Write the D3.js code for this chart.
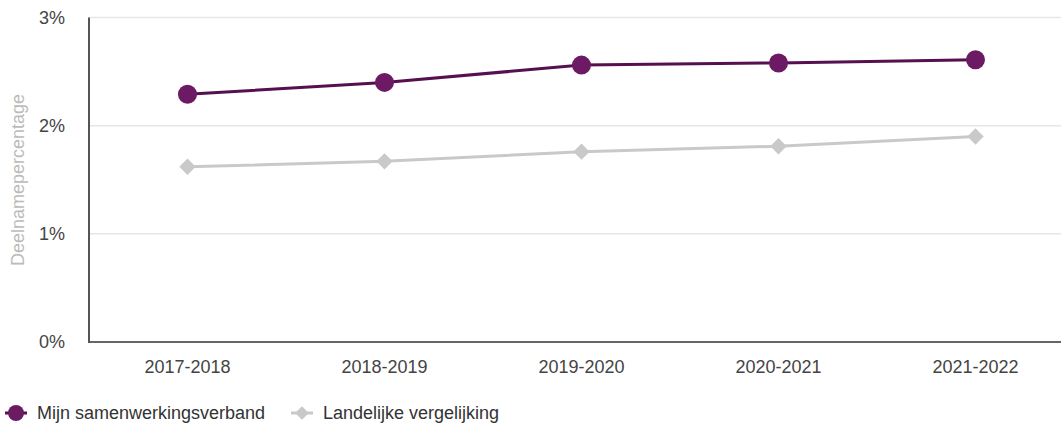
<!DOCTYPE html>
<html>
<head>
<meta charset="utf-8">
<script src="https://cdn.jsdelivr.net/npm/d3@7"></script>
<style>
	body { margin: 0; background: #fff; }
	svg text { font-family: "Liberation Sans", Arial, sans-serif; }
</style>
</head>
<body>
<div id="chart"></div>
<script>
// data (percentages)
const years = ['2017-2018', '2018-2019', '2019-2020', '2020-2021', '2021-2022'];
const mijnVerband = [2.29, 2.40, 2.56, 2.58, 2.61];
const landelijk = [1.62, 1.67, 1.76, 1.81, 1.90];
const yTicks = [0, 1, 2, 3];
const legendLabels = ['Mijn samenwerkingsverband', 'Landelijke vergelijking'];

const width = 1061;
const height = 423;
const purple = '#6b1a63';
const grey = '#c9c9c9';
const font_size = '18px';

const svg = d3.select('#chart')
	.append('svg')
	.attr('width', width)
	.attr('height', height);

const x = d3.scalePoint()
	.domain(years)
	.range([89, 1074])
	.padding(0.5);

const y = d3.scaleLinear()
	.domain([0, 3])
	.range([342, 17.5]);

// gridlines
svg.append('g')
	.selectAll('line')
	.data(yTicks.filter(d => d > 0))
	.join('line')
	.attr('x1', 89)
	.attr('x2', width)
	.attr('y1', d => y(d))
	.attr('y2', d => y(d))
	.attr('stroke', '#e6e6e6')
	.attr('stroke-width', 1.5);

// y tick labels
svg.append('g')
	.selectAll('text')
	.data(yTicks)
	.join('text')
	.attr('x', 65)
	.attr('y', d => y(d) + 6)
	.attr('text-anchor', 'end')
	.attr('fill', '#444')
	.attr('font-size', font_size)
	.text(d => d + '%');

// x tick labels
svg.append('g')
	.selectAll('text')
	.data(years)
	.join('text')
	.attr('x', d => x(d))
	.attr('y', 373)
	.attr('text-anchor', 'middle')
	.attr('fill', '#444')
	.attr('font-size', font_size)
	.text(d => d);

// axis lines
svg.append('line')
	.attr('x1', 89).attr('x2', width)
	.attr('y1', y(0)).attr('y2', y(0))
	.attr('stroke', '#666')
	.attr('stroke-width', 2);

svg.append('line')
	.attr('x1', 89).attr('x2', 89)
	.attr('y1', y(3)).attr('y2', y(0) + 1)
	.attr('stroke', '#555')
	.attr('stroke-width', 2);

// y axis title
svg.append('text')
	.attr('transform', 'translate(24,180) rotate(-90)')
	.attr('text-anchor', 'middle')
	.attr('fill', '#bbb')
	.attr('font-size', font_size)
	.text('Deelnamepercentage');

const line = d3.line()
	.x((d, i) => x(years[i]))
	.y(d => y(d));

// landelijke vergelijking
svg.append('path')
	.datum(landelijk)
	.attr('d', line)
	.attr('fill', 'none')
	.attr('stroke', grey)
	.attr('stroke-width', 3);

const diamond = d3.symbol().type(d3.symbolDiamond2).size(170);

svg.append('g')
	.selectAll('path')
	.data(landelijk)
	.join('path')
	.attr('transform', (d, i) => `translate(${x(years[i])},${y(d)})`)
	.attr('d', diamond)
	.attr('fill', grey);

// mijn samenwerkingsverband
svg.append('path')
	.datum(mijnVerband)
	.attr('d', line)
	.attr('fill', 'none')
	.attr('stroke', '#561050')
	.attr('stroke-width', 3);

svg.append('g')
	.selectAll('circle')
	.data(mijnVerband)
	.join('circle')
	.attr('cx', (d, i) => x(years[i]))
	.attr('cy', d => y(d))
	.attr('r', 9.5)
	.attr('fill', purple);

// legend
const legend = svg.append('g');
const legendX = [16, 302];

legend.selectAll('line')
	.data(legendLabels)
	.join('line')
	.attr('x1', (d, i) => legendX[i] - 11)
	.attr('x2', (d, i) => legendX[i] + 11)
	.attr('y1', 413)
	.attr('y2', 413)
	.attr('stroke', (d, i) => i == 0 ? '#561050' : grey)
	.attr('stroke-width', 3);

legend.append('circle')
	.attr('cx', legendX[0])
	.attr('cy', 413)
	.attr('r', 8)
	.attr('fill', purple);

legend.append('path')
	.attr('transform', `translate(${legendX[1]},413)`)
	.attr('d', d3.symbol().type(d3.symbolDiamond2).size(120))
	.attr('fill', grey);

legend.selectAll('text')
	.data(legendLabels)
	.join('text')
	.attr('x', (d, i) => legendX[i] + 21)
	.attr('y', 419)
	.attr('fill', '#333')
	.attr('font-size', font_size)
	.text(d => d);
</script>
</body>
</html>
